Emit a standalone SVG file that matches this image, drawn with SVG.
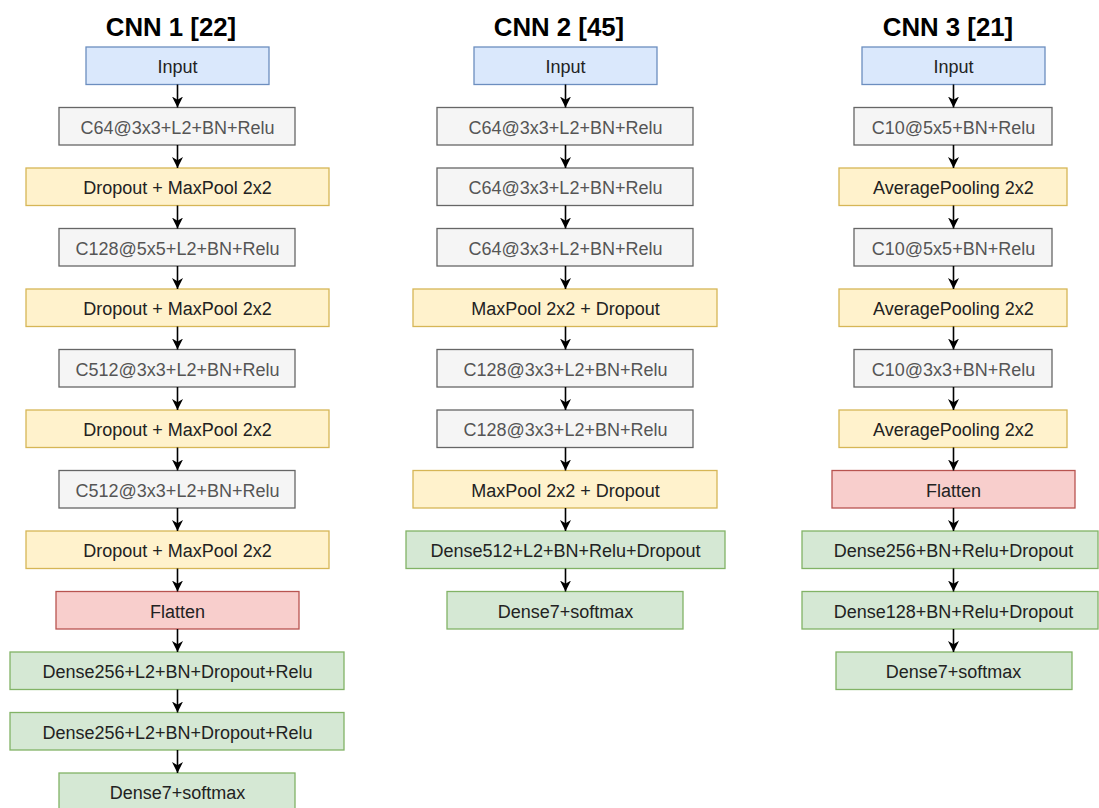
<svg xmlns="http://www.w3.org/2000/svg" width="1099" height="808" viewBox="0 0 1099 808">
  <defs>
    <marker id="arr" viewBox="0 0 10 10" refX="10" refY="5" markerWidth="11" markerHeight="11" markerUnits="userSpaceOnUse" orient="auto">
      <path d="M0,0 L10,5 L0,10 L3,5 z" fill="#000"/>
    </marker>
    <style>
      .title { font-family: "Liberation Sans", Arial, sans-serif; font-weight: bold; font-size: 25.8px; fill: #000; text-anchor: middle; }
      rect { stroke-width: 1.3; }
      .blue { fill: #dae8fc; stroke: #6c8ebf; }
      .gray { fill: #f5f5f5; stroke: #666666; }
      .yellow { fill: #fff2cc; stroke: #d6b656; }
      .red { fill: #f8cecc; stroke: #b85450; }
      .green { fill: #d5e8d4; stroke: #82b366; }
      text.lbl { font-family: "Liberation Sans", Arial, sans-serif; font-size: 18px; text-anchor: middle; fill: #222; }
      text.lg { fill: #555; }
      .conn line { stroke: #000; stroke-width: 1.6; marker-end: url(#arr); }
    </style>
  </defs>
  <rect width="1099" height="808" fill="#fff" style="stroke:none"/>

  <!-- column headings -->
  <text class="title" x="171" y="36">CNN 1 [22]</text>
  <text class="title" x="559" y="36">CNN 2 [45]</text>
  <text class="title" x="948" y="36">CNN 3 [21]</text>

  <!-- CNN 1 -->
  <g id="c1-input"><rect class="blue" x="86" y="47" width="183" height="37.5"/><text class="lbl" x="177.5" y="73">Input</text></g>
  <g id="c1-conv1"><rect class="gray" x="59" y="107.5" width="236" height="37.5"/><text class="lbl lg" x="177.5" y="133.5">C64@3x3+L2+BN+Relu</text></g>
  <g id="c1-pool1"><rect class="yellow" x="26" y="168" width="303" height="37.5"/><text class="lbl" x="177.5" y="194">Dropout + MaxPool 2x2</text></g>
  <g id="c1-conv2"><rect class="gray" x="59" y="228.5" width="236" height="37.5"/><text class="lbl lg" x="177.5" y="254.5">C128@5x5+L2+BN+Relu</text></g>
  <g id="c1-pool2"><rect class="yellow" x="26" y="289" width="303" height="37.5"/><text class="lbl" x="177.5" y="315">Dropout + MaxPool 2x2</text></g>
  <g id="c1-conv3"><rect class="gray" x="59" y="349.5" width="236" height="37.5"/><text class="lbl lg" x="177.5" y="375.5">C512@3x3+L2+BN+Relu</text></g>
  <g id="c1-pool3"><rect class="yellow" x="26" y="410" width="303" height="37.5"/><text class="lbl" x="177.5" y="436">Dropout + MaxPool 2x2</text></g>
  <g id="c1-conv4"><rect class="gray" x="59" y="470.5" width="236" height="37.5"/><text class="lbl lg" x="177.5" y="496.5">C512@3x3+L2+BN+Relu</text></g>
  <g id="c1-pool4"><rect class="yellow" x="26" y="531" width="303" height="37.5"/><text class="lbl" x="177.5" y="557">Dropout + MaxPool 2x2</text></g>
  <g id="c1-flatten"><rect class="red" x="56" y="591.5" width="243" height="37.5"/><text class="lbl" x="177.5" y="617.5">Flatten</text></g>
  <g id="c1-dense1"><rect class="green" x="10" y="652" width="334" height="37.5"/><text class="lbl" x="177.5" y="678">Dense256+L2+BN+Dropout+Relu</text></g>
  <g id="c1-dense2"><rect class="green" x="10" y="712.5" width="334" height="37.5"/><text class="lbl" x="177.5" y="738.5">Dense256+L2+BN+Dropout+Relu</text></g>
  <g id="c1-out"><rect class="green" x="59" y="773" width="236" height="37.5"/><text class="lbl" x="177.5" y="799">Dense7+softmax</text></g>

  <!-- CNN 2 -->
  <g id="c2-input"><rect class="blue" x="474" y="47" width="183" height="37.5"/><text class="lbl" x="565.5" y="73">Input</text></g>
  <g id="c2-conv1"><rect class="gray" x="437" y="107.5" width="256" height="37.5"/><text class="lbl lg" x="565.5" y="133.5">C64@3x3+L2+BN+Relu</text></g>
  <g id="c2-conv2"><rect class="gray" x="437" y="168" width="256" height="37.5"/><text class="lbl lg" x="565.5" y="194">C64@3x3+L2+BN+Relu</text></g>
  <g id="c2-conv3"><rect class="gray" x="437" y="228.5" width="256" height="37.5"/><text class="lbl lg" x="565.5" y="254.5">C64@3x3+L2+BN+Relu</text></g>
  <g id="c2-pool1"><rect class="yellow" x="413" y="289" width="304" height="37.5"/><text class="lbl" x="565.5" y="315">MaxPool 2x2 + Dropout</text></g>
  <g id="c2-conv4"><rect class="gray" x="437" y="349.5" width="256" height="37.5"/><text class="lbl lg" x="565.5" y="375.5">C128@3x3+L2+BN+Relu</text></g>
  <g id="c2-conv5"><rect class="gray" x="437" y="410" width="256" height="37.5"/><text class="lbl lg" x="565.5" y="436">C128@3x3+L2+BN+Relu</text></g>
  <g id="c2-pool2"><rect class="yellow" x="413" y="470.5" width="304" height="37.5"/><text class="lbl" x="565.5" y="496.5">MaxPool 2x2 + Dropout</text></g>
  <g id="c2-dense1"><rect class="green" x="406" y="531" width="319" height="37.5"/><text class="lbl" x="565.5" y="557">Dense512+L2+BN+Relu+Dropout</text></g>
  <g id="c2-out"><rect class="green" x="447" y="591.5" width="236" height="37.5"/><text class="lbl" x="565.5" y="617.5">Dense7+softmax</text></g>

  <!-- CNN 3 -->
  <g id="c3-input"><rect class="blue" x="862" y="47" width="183" height="37.5"/><text class="lbl" x="953.5" y="73">Input</text></g>
  <g id="c3-conv1"><rect class="gray" x="854" y="107.5" width="198" height="37.5"/><text class="lbl lg" x="953.5" y="133.5">C10@5x5+BN+Relu</text></g>
  <g id="c3-pool1"><rect class="yellow" x="839" y="168" width="228" height="37.5"/><text class="lbl" x="953.5" y="194">AveragePooling 2x2</text></g>
  <g id="c3-conv2"><rect class="gray" x="854" y="228.5" width="198" height="37.5"/><text class="lbl lg" x="953.5" y="254.5">C10@5x5+BN+Relu</text></g>
  <g id="c3-pool2"><rect class="yellow" x="839" y="289" width="228" height="37.5"/><text class="lbl" x="953.5" y="315">AveragePooling 2x2</text></g>
  <g id="c3-conv3"><rect class="gray" x="854" y="349.5" width="198" height="37.5"/><text class="lbl lg" x="953.5" y="375.5">C10@3x3+BN+Relu</text></g>
  <g id="c3-pool3"><rect class="yellow" x="839" y="410" width="228" height="37.5"/><text class="lbl" x="953.5" y="436">AveragePooling 2x2</text></g>
  <g id="c3-flatten"><rect class="red" x="832" y="470.5" width="243" height="37.5"/><text class="lbl" x="953.5" y="496.5">Flatten</text></g>
  <g id="c3-dense1"><rect class="green" x="802" y="531" width="296" height="37.5"/><text class="lbl" x="953.5" y="557">Dense256+BN+Relu+Dropout</text></g>
  <g id="c3-dense2"><rect class="green" x="802" y="591.5" width="296" height="37.5"/><text class="lbl" x="953.5" y="617.5">Dense128+BN+Relu+Dropout</text></g>
  <g id="c3-out"><rect class="green" x="836" y="652" width="236" height="37.5"/><text class="lbl" x="953.5" y="678">Dense7+softmax</text></g>

  <!-- connectors -->
  <g class="conn">
    <line x1="177.5" y1="84.5" x2="177.5" y2="107.5"/>
    <line x1="177.5" y1="145" x2="177.5" y2="168"/>
    <line x1="177.5" y1="205.5" x2="177.5" y2="228.5"/>
    <line x1="177.5" y1="266" x2="177.5" y2="289"/>
    <line x1="177.5" y1="326.5" x2="177.5" y2="349.5"/>
    <line x1="177.5" y1="387" x2="177.5" y2="410"/>
    <line x1="177.5" y1="447.5" x2="177.5" y2="470.5"/>
    <line x1="177.5" y1="508" x2="177.5" y2="531"/>
    <line x1="177.5" y1="568.5" x2="177.5" y2="591.5"/>
    <line x1="177.5" y1="629" x2="177.5" y2="652"/>
    <line x1="177.5" y1="689.5" x2="177.5" y2="712.5"/>
    <line x1="177.5" y1="750" x2="177.5" y2="773"/>

    <line x1="565.5" y1="84.5" x2="565.5" y2="107.5"/>
    <line x1="565.5" y1="145" x2="565.5" y2="168"/>
    <line x1="565.5" y1="205.5" x2="565.5" y2="228.5"/>
    <line x1="565.5" y1="266" x2="565.5" y2="289"/>
    <line x1="565.5" y1="326.5" x2="565.5" y2="349.5"/>
    <line x1="565.5" y1="387" x2="565.5" y2="410"/>
    <line x1="565.5" y1="447.5" x2="565.5" y2="470.5"/>
    <line x1="565.5" y1="508" x2="565.5" y2="531"/>
    <line x1="565.5" y1="568.5" x2="565.5" y2="591.5"/>

    <line x1="953.5" y1="84.5" x2="953.5" y2="107.5"/>
    <line x1="953.5" y1="145" x2="953.5" y2="168"/>
    <line x1="953.5" y1="205.5" x2="953.5" y2="228.5"/>
    <line x1="953.5" y1="266" x2="953.5" y2="289"/>
    <line x1="953.5" y1="326.5" x2="953.5" y2="349.5"/>
    <line x1="953.5" y1="387" x2="953.5" y2="410"/>
    <line x1="953.5" y1="447.5" x2="953.5" y2="470.5"/>
    <line x1="953.5" y1="508" x2="953.5" y2="531"/>
    <line x1="953.5" y1="568.5" x2="953.5" y2="591.5"/>
    <line x1="953.5" y1="629" x2="953.5" y2="652"/>
  </g>
</svg>
